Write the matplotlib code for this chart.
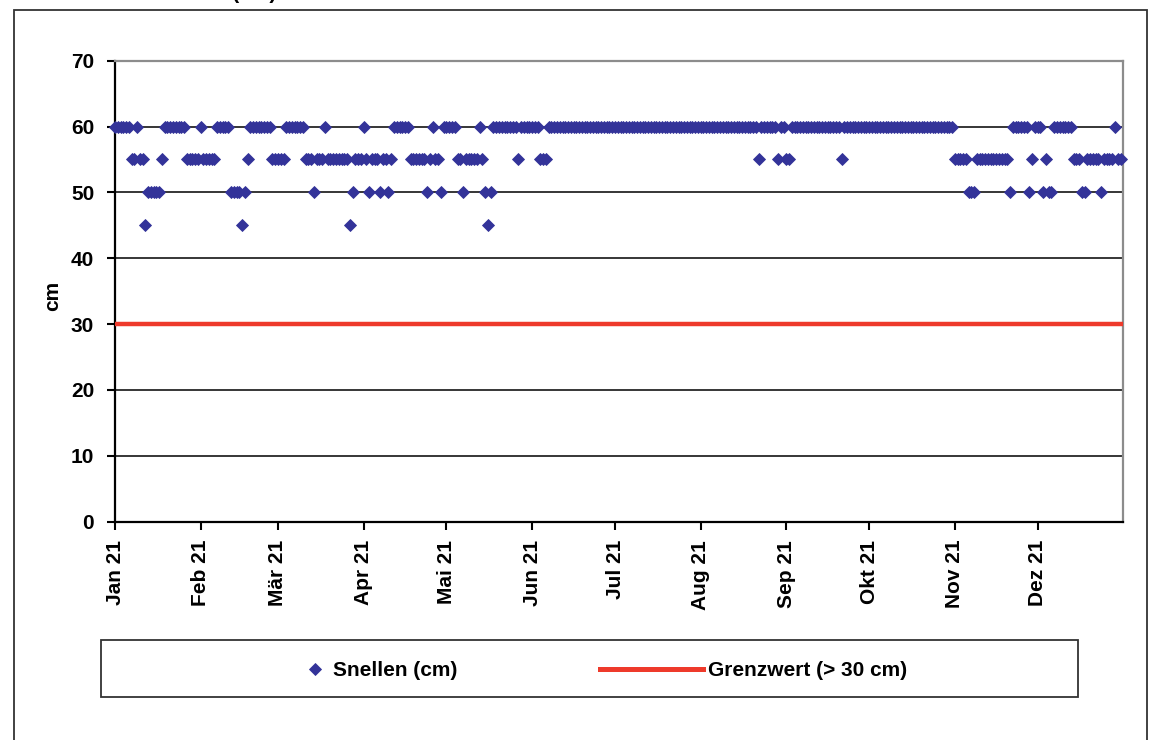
import pandas as pd
import matplotlib.pyplot as plt
from matplotlib.patches import Rectangle
from matplotlib.lines import Line2D

OUTPUT_CHART = "out.png"

# Snellen-Sichttiefe je Tag in cm
JAN = [60, 60, 60, 60, 60, 60, 55, 55, 60, 55, 55, 45, 50, 50, 50, 50, 50, 55, 60, 60, 60, 60, 60, 60, 60, 60, 55, 55, 55, 55, 55]
FEB = [60, 55, 55, 55, 55, 55, 60, 60, 60, 60, 60, 50, 50, 50, 50, 45, 50, 55, 60, 60, 60, 60, 60, 60, 60, 60, 55, 55]
MAR = [55, 55, 55, 60, 60, 60, 60, 60, 60, 60, 55, 55, 55, 50, 55, 55, 55, 60, 55, 55, 55, 55, 55, 55, 55, 55, 45, 50, 55, 55, 55]
APR = [60, 55, 50, 55, 55, 55, 50, 55, 55, 50, 55, 60, 60, 60, 60, 60, 60, 55, 55, 55, 55, 55, 55, 50, 55, 60, 55, 55, 50, 60]
MAI = [60, 60, 60, 60, 55, 55, 50, 55, 55, 55, 55, 55, 60, 55, 50, 45, 50, 60, 60, 60, 60, 60, 60, 60, 60, 60, 55, 60, 60, 60, 60]
JUN = [60, 60, 60, 55, 55, 55, 60, 60, 60, 60, 60, 60, 60, 60, 60, 60, 60, 60, 60, 60, 60, 60, 60, 60, 60, 60, 60, 60, 60, 60]
JUL = [60, 60, 60, 60, 60, 60, 60, 60, 60, 60, 60, 60, 60, 60, 60, 60, 60, 60, 60, 60, 60, 60, 60, 60, 60, 60, 60, 60, 60, 60, 60]
AUG = [60, 60, 60, 60, 60, 60, 60, 60, 60, 60, 60, 60, 60, 60, 60, 60, 60, 60, 60, 60, 60, 55, 60, 60, 60, 60, 60, 60, 55, 60, 60]
SEP = [55, 55, 60, 60, 60, 60, 60, 60, 60, 60, 60, 60, 60, 60, 60, 60, 60, 60, 60, 60, 55, 60, 60, 60, 60, 60, 60, 60, 60, 60]
OKT = [60, 60, 60, 60, 60, 60, 60, 60, 60, 60, 60, 60, 60, 60, 60, 60, 60, 60, 60, 60, 60, 60, 60, 60, 60, 60, 60, 60, 60, 60, 60]
NOV = [55, 55, 55, 55, 55, 50, 50, 50, 55, 55, 55, 55, 55, 55, 55, 55, 55, 55, 55, 55, 50, 60, 60, 60, 60, 60, 60, 50, 55, 60]
DEZ = [60, 60, 50, 55, 50, 50, 60, 60, 60, 60, 60, 60, 60, 55, 55, 55, 50, 50, 55, 55, 55, 55, 55, 50, 55, 55, 55, 55, 60, 55, 55]

MONATE = ["Jan 21", "Feb 21", "Mär 21", "Apr 21", "Mai 21", "Jun 21",
          "Jul 21", "Aug 21", "Sep 21", "Okt 21", "Nov 21", "Dez 21"]
GRENZWERT = 30

BLAU = "#333399"
ROT = "#EE3A2B"
W, H = 1169, 740


def fx(x):
    return x / W


def fy(y):
    return 1 - y / H


def main():
    plt.rcParams['font.family'] = ['Liberation Sans', 'DejaVu Sans']
    plt.rcParams['font.weight'] = 'bold'
    plt.rcParams['font.size'] = 15

    werte = JAN + FEB + MAR + APR + MAI + JUN + JUL + AUG + SEP + OKT + NOV + DEZ
    daten = pd.date_range("2021-01-01", periods=len(werte), freq="D")
    ende = pd.Timestamp("2022-01-01")

    fig = plt.figure(figsize=(W / 100, H / 100), dpi=100)
    ax = fig.add_axes([fx(115), fy(521.7), fx(1123.3) - fx(115), fy(60.7) - fy(521.7)])

    ax.plot(daten, werte, linestyle='none', marker='D', markersize=6,
            color=BLAU, markeredgecolor=BLAU, markeredgewidth=0.6,
            zorder=4, clip_on=False)
    ax.axhline(GRENZWERT, color=ROT, linewidth=3.2, zorder=3)

    ax.set_xlim(daten[0], ende)
    ax.set_ylim(0, 70)
    ax.set_yticks(range(0, 71, 10))
    ax.yaxis.grid(True, color='black', linewidth=1.1)
    ax.set_axisbelow(True)

    ax.set_xticks(pd.date_range("2021-01-01", periods=12, freq="MS"))
    ax.set_xticklabels(MONATE, rotation=90, fontweight='bold')
    ax.tick_params(axis='x', direction='out', length=6, width=1.5, pad=7)
    ax.tick_params(axis='y', direction='out', length=6, width=1.5, pad=9)

    ax.set_ylabel('cm', fontweight='bold')
    ax.yaxis.set_label_coords(-0.052, 0.49)

    for s in ['left', 'bottom']:
        ax.spines[s].set_color('black')
        ax.spines[s].set_linewidth(1.6)
    for s in ['top', 'right']:
        ax.spines[s].set_color('#8c8c8c')
        ax.spines[s].set_linewidth(1.6)

    # Rahmen um das ganze Diagramm
    fig.add_artist(Rectangle((fx(14), -0.02), fx(1147) - fx(14), fy(10) + 0.02,
                             transform=fig.transFigure, fill=False,
                             edgecolor='#333333', linewidth=1.3))

    # Titel, im Original oben abgeschnitten
    fig.text(fx(276), fy(-1.0), 'Snellen (cm)', ha='right', va='baseline')

    # Legende
    fig.add_artist(Rectangle((fx(101), fy(697)), fx(1078) - fx(101), fy(640) - fy(697),
                             transform=fig.transFigure, fill=False,
                             edgecolor='#333333', linewidth=1.3))
    fig.add_artist(Line2D([fx(315)], [fy(669)], transform=fig.transFigure,
                          linestyle='none', marker='D', markersize=6,
                          color=BLAU, markeredgewidth=0.6))
    fig.text(fx(333), fy(669), 'Snellen (cm)', ha='left', va='center_baseline')
    fig.add_artist(Line2D([fx(600), fx(703)], [fy(669), fy(669)],
                          transform=fig.transFigure, color=ROT, linewidth=3.6))
    fig.text(fx(708), fy(669), 'Grenzwert (> 30 cm)', ha='left', va='center_baseline')

    fig.savefig(OUTPUT_CHART, dpi=100)
    plt.close(fig)


if __name__ == "__main__":
    main()
